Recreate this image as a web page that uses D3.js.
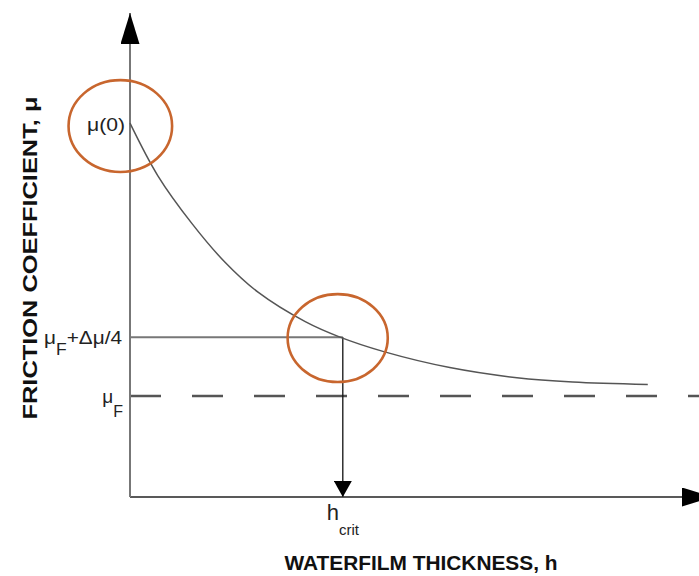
<!DOCTYPE html>
<html>
<head>
<meta charset="utf-8">
<script src="https://cdn.jsdelivr.net/npm/d3@7/dist/d3.min.js"></script>
<style>
  html, body { margin: 0; padding: 0; background: #fff; }
  svg { display: block; font-family: "Liberation Sans", Arial, sans-serif; }
</style>
</head>
<body>
<svg id="chart" width="699" height="576"></svg>
<script>
// Friction coefficient vs. waterfilm thickness (schematic)
const thickness = [0, 0.49, 1.09, 1.67, 2.25, 3.08, 3.69, 4.46, 5.62, 6.80, 7.78, 9.10];
const friction  = [0.774, 0.665, 0.566, 0.486, 0.424, 0.363, 0.331, 0.301, 0.268, 0.247, 0.238, 0.233];

const muF = 0.209;           // asymptotic friction level
const muQuarter = 0.331;     // μF + Δμ/4
const hCrit = 3.74;          // thickness at μF + Δμ/4

// highlighted regions: centre (h, μ) and radii in data units
const highlights = [
  { h: -0.17, mu: 0.768, rh: 0.91, rmu: 0.095 },
  { h: 3.65,  mu: 0.329, rh: 0.88, rmu: 0.091 }
];

const svg = d3.select("#chart");
const x = d3.scaleLinear().domain([0, 10]).range([130, 699]);
const y = d3.scaleLinear().domain([0, 1]).range([497, 14]);

// arrowheads
const defs = svg.append("defs");
function marker(id, w, h) {
  defs.append("marker")
    .attr("id", id)
    .attr("viewBox", `0 0 ${h} ${w}`)
    .attr("refX", h).attr("refY", w / 2)
    .attr("markerWidth", h).attr("markerHeight", w)
    .attr("markerUnits", "userSpaceOnUse")
    .attr("orient", "auto")
    .append("path")
    .attr("d", `M0,0 L${h},${w / 2} L0,${w} Z`)
    .attr("fill", "#000");
}
marker("axisArrow", 19, 31);
marker("dropArrow", 18, 16);

// dashed asymptote μF
svg.append("line")
  .attr("x1", x(0)).attr("x2", x(10))
  .attr("y1", y(muF)).attr("y2", y(muF))
  .attr("stroke", "#555").attr("stroke-width", 2.5)
  .attr("stroke-dasharray", "31 31");

// horizontal guide at μF + Δμ/4
svg.append("line")
  .attr("x1", x(0)).attr("x2", x(hCrit))
  .attr("y1", y(muQuarter)).attr("y2", y(muQuarter))
  .attr("stroke", "#777").attr("stroke-width", 2);

// vertical drop to h_crit
svg.append("line")
  .attr("x1", x(hCrit)).attr("x2", x(hCrit))
  .attr("y1", y(muQuarter)).attr("y2", y(0))
  .attr("stroke", "#111").attr("stroke-width", 1.3)
  .attr("marker-end", "url(#dropArrow)");

// x axis
svg.append("line")
  .attr("x1", x(0)).attr("x2", x(10) + 14)
  .attr("y1", y(0)).attr("y2", y(0))
  .attr("stroke", "#222").attr("stroke-width", 1.6)
  .attr("marker-end", "url(#axisArrow)");

// y axis
svg.append("line")
  .attr("x1", x(0)).attr("x2", x(0))
  .attr("y1", y(0)).attr("y2", y(1) - 1)
  .attr("stroke", "#777").attr("stroke-width", 2)
  .attr("marker-end", "url(#axisArrow)");

// friction curve
const pts = thickness.map((h, i) => [h, friction[i]]);
svg.append("path")
  .datum(pts)
  .attr("d", d3.line().x(d => x(d[0])).y(d => y(d[1])).curve(d3.curveCatmullRom.alpha(0.5)))
  .attr("fill", "none").attr("stroke", "#555").attr("stroke-width", 1.5);

// highlight ellipses
svg.selectAll("ellipse.hl")
  .data(highlights)
  .join("ellipse")
  .attr("class", "hl")
  .attr("cx", d => x(d.h)).attr("cy", d => y(d.mu))
  .attr("rx", d => x(d.rh) - x(0)).attr("ry", d => y(0) - y(d.rmu))
  .attr("fill", "none").attr("stroke", "#c8662e").attr("stroke-width", 2.6);

// value labels
const lab = svg.append("g").attr("fill", "#222").attr("font-size", 19);
lab.append("text")
  .attr("x", x(0) - 5).attr("y", y(friction[0]) + 1)
  .attr("text-anchor", "end").attr("dominant-baseline", "central")
  .attr("textLength", 38).attr("lengthAdjust", "spacingAndGlyphs")
  .text("μ(0)");

const q = lab.append("text")
  .attr("x", x(0) - 8).attr("y", y(muQuarter) + 7)
  .attr("text-anchor", "end")
  .attr("textLength", 78).attr("lengthAdjust", "spacingAndGlyphs");
q.append("tspan").text("μ");
q.append("tspan").attr("font-size", 16).attr("dy", 11).text("F");
q.append("tspan").attr("dy", -11).text("+Δμ/4");

const f = lab.append("text")
  .attr("x", x(0) - 7).attr("y", y(muF) + 7)
  .attr("text-anchor", "end");
f.append("tspan").text("μ");
f.append("tspan").attr("font-size", 16).attr("dy", 14).text("F");

const hc = lab.append("text")
  .attr("x", x(hCrit) - 16).attr("y", y(0) + 23);
hc.append("tspan").attr("font-size", 22).text("h");
hc.append("tspan").attr("font-size", 15).attr("dy", 15).text("crit");

// axis titles
svg.append("text")
  .attr("x", 421).attr("y", 570)
  .attr("text-anchor", "middle")
  .attr("font-size", 21).attr("font-weight", "bold").attr("fill", "#111")
  .attr("textLength", 273).attr("lengthAdjust", "spacingAndGlyphs")
  .text("WATERFILM THICKNESS, h");

svg.append("text")
  .attr("transform", "translate(37,258) rotate(-90)")
  .attr("text-anchor", "middle")
  .attr("font-size", 21).attr("font-weight", "bold").attr("fill", "#111")
  .attr("textLength", 323).attr("lengthAdjust", "spacingAndGlyphs")
  .text("FRICTION COEFFICIENT, μ");
</script>
</body>
</html>
